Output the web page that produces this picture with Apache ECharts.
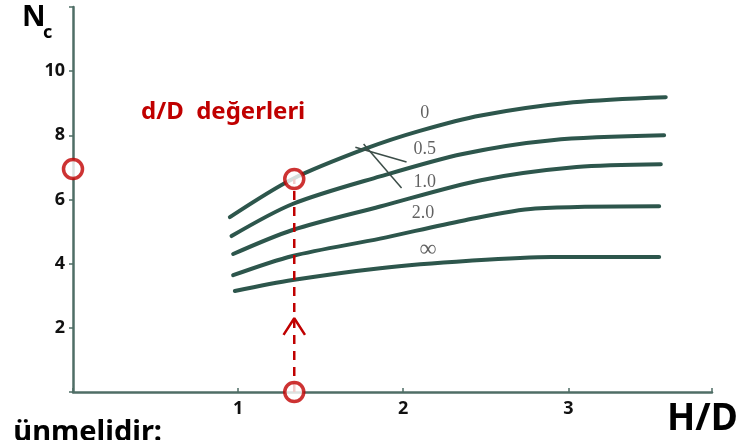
<!DOCTYPE html>
<html>
<head>
<meta charset="utf-8">
<script src="https://cdn.jsdelivr.net/npm/echarts@6/dist/echarts.min.js"></script>
<style>
  html, body { margin: 0; padding: 0; background: #fff; }
  #chart { width: 744px; height: 440px; }
</style>
</head>
<body>
<div id="chart"></div>
<script>
// Bearing capacity factor Nc against H/D, one curve per d/D value
const curveNames = ['0', '0.5', '1.0', '2.0', '∞'];
const curve0   = [[0.95, 5.45], [1.33, 6.64], [1.78, 7.60], [2.10, 8.14], [2.47, 8.62], [3.03, 9.03], [3.59, 9.19]];
const curve05  = [[0.96, 4.86], [1.33, 5.86], [1.86, 6.72], [2.36, 7.42], [2.90, 7.85], [3.58, 8.00]];
const curve10  = [[0.97, 4.30], [1.33, 5.05], [1.86, 5.78], [2.47, 6.60], [3.05, 7.01], [3.56, 7.10]];
const curve20  = [[0.97, 3.64], [1.33, 4.24], [1.86, 4.78], [2.36, 5.34], [2.80, 5.72], [3.55, 5.79]];
const curveInf = [[0.98, 3.15], [1.33, 3.49], [1.86, 3.86], [2.40, 4.09], [2.90, 4.21], [3.55, 4.21]];
const curves = [curve0, curve05, curve10, curve20, curveInf];

// where each curve's d/D value is written
const curveLabelPos = [[2.13, 8.69], [2.13, 7.57], [2.13, 6.54], [2.12, 5.58], [2.15, 4.42]];

// leader strokes pointing from the 0.5 and 1.0 labels to their curves
const leaderA = [[1.71, 7.63], [2.02, 7.17]];
const leaderB = [[1.76, 7.73], [1.99, 6.36]];

// worked reading: H/D = 1.34 up to the d/D = 0 curve, read Nc
const readHD = 1.34;
const readCurveNc = 6.64;
const readAxisNc = 6.95;
const arrowPts = [[1.275, 1.78], [1.34, 2.30], [1.405, 1.78]];

const xTicks = [1, 2, 3];
const yTicks = [2, 4, 6, 8, 10];

const AXIS = '#4f6e66';
const CURVE = '#2d564c';
const RED = '#c00000';
const LABEL_FONT = '"Noto Sans", "Open Sans", sans-serif';

const chart = echarts.init(document.getElementById('chart'));

const series = [];
curves.forEach(c => {
  series.push({
    type: 'line', data: c, smooth: 0.3, symbol: 'none', z: 3,
    lineStyle: { color: CURVE, width: 4, cap: 'round' }
  });
});
series.push({
  type: 'scatter', symbolSize: 0, z: 4,
  data: curveLabelPos.map((p, i) => ({
    value: p, name: curveNames[i],
    label: i === 4 ? { fontSize: 24 } : {}
  })),
  label: {
    show: true, position: 'inside', formatter: p => p.name,
    fontFamily: '"Liberation Serif", "DejaVu Serif", serif', fontSize: 18, color: '#3a3a3a'
  }
});
[leaderA, leaderB].forEach(l => series.push({
  type: 'line', data: l, symbol: 'none', z: 3,
  lineStyle: { color: '#3c4d48', width: 1.5 }
}));
// dashed reading line
series.push({
  type: 'line', data: [[readHD, 0], [readHD, readCurveNc]], symbol: 'none', z: 5,
  lineStyle: { color: RED, width: 2.5, type: [9, 7] }
});
series.push({
  type: 'line', data: arrowPts, symbol: 'none', z: 5,
  lineStyle: { color: RED, width: 2.5 }
});
series.push({
  type: 'scatter', z: 6, symbol: 'circle', symbolSize: 19,
  data: [[readHD, 0], [readHD, readCurveNc], [0, readAxisNc]],
  itemStyle: { color: '#fff', borderColor: RED, borderWidth: 3.5 }
});

chart.setOption({
  animation: false,
  backgroundColor: '#fff',
  grid: { left: 73, right: 32, top: 7, bottom: 48 },
  xAxis: {
    type: 'value', min: 0, max: 3.87, interval: 1,
    axisLine: { lineStyle: { color: AXIS, width: 2.5 } },
    axisTick: { show: true, inside: true, length: 4, lineStyle: { color: AXIS, width: 1.5 } },
    splitLine: { show: false },
    axisLabel: {
      margin: 8, fontFamily: LABEL_FONT, fontWeight: 'bold', fontSize: 18, color: '#111',
      formatter: v => xTicks.includes(v) ? String(v) : ''
    }
  },
  yAxis: {
    type: 'value', min: 0, max: 12, interval: 2,
    axisLine: { show: true, lineStyle: { color: AXIS, width: 2.5 } },
    axisTick: { show: true, length: 4, lineStyle: { color: AXIS, width: 1.5 } },
    splitLine: { show: false },
    axisLabel: {
      margin: 8, fontFamily: LABEL_FONT, fontWeight: 'bold', fontSize: 18, color: '#111',
      formatter: v => yTicks.includes(v) ? String(v) : ''
    }
  },
  graphic: [
    { type: 'text', left: 22, top: 3, style: { text: 'N', font: 'bold 29px ' + LABEL_FONT, fill: '#000' } },
    { type: 'text', left: 43, top: 24, style: { text: 'c', font: 'bold 18px ' + LABEL_FONT, fill: '#000' } },
    { type: 'text', left: 141, top: 100, style: { text: 'd/D  değerleri', font: 'bold 24px ' + LABEL_FONT, fill: RED } },
    { type: 'text', left: 667, top: 401, style: { text: 'H/D', font: 'bold 37px ' + LABEL_FONT, fill: '#000' } },
    { type: 'text', right: 582, top: 418, style: { text: 'ünmelidir:', font: 'bold 29px ' + LABEL_FONT, fill: '#000', align: 'right' } }
  ],
  series: series
});
</script>
</body>
</html>
